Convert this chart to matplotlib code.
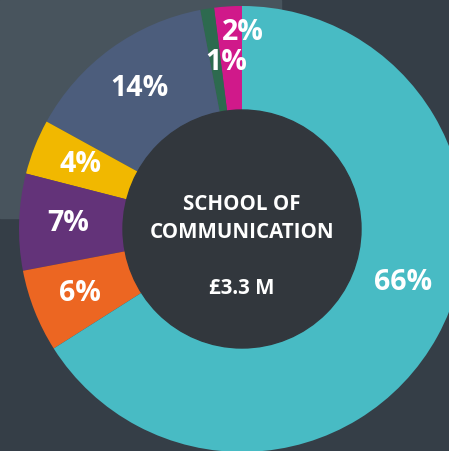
import numpy as np
import matplotlib
matplotlib.use("Agg")
from matplotlib import pyplot as plt
from matplotlib.patches import Rectangle, Circle

# data, counter-clockwise from the top
shares = [2, 1, 14, 4, 7, 6, 66]
labels = ["2%", "1%", "14%", "4%", "7%", "6%", "66%"]
colors = ["#d0198a", "#2d6a4f", "#4c5d7c", "#f1b800", "#633379", "#ec6622", "#48bbc4"]
title_lines = ["SCHOOL OF", "COMMUNICATION"]
total = "£3.3 M"

W, H = 449, 451
fig = plt.figure(figsize=(W / 100, H / 100), dpi=100)
fig.patch.set_facecolor("#353e47")
ax = fig.add_axes([0, 0, 1, 1])

# lighter panel behind the top-left
ax.add_patch(Rectangle((0, H - 218), 281, 218, color="#48545d", zorder=0))

cx, cy, R = 242, H - 229, 223
wedges, _ = ax.pie(shares, colors=colors, startangle=90, counterclock=True,
                   center=(cx, cy), radius=R, frame=True,
                   wedgeprops=dict(linewidth=0))
ax.set_xlim(0, W)
ax.set_ylim(0, H)
ax.axis("off")
ax.add_patch(Circle((cx, cy), 119, color="#32373d", zorder=5))

# label placement: mid-angle of each wedge, small ones nudged by hand
mids = [(w.theta1 + w.theta2) / 2 for w in wedges]
nudge = {0: (-3.9, 197), 1: (-3.5, 167), 6: (10.6, 170)}
for i, (lab, m) in enumerate(zip(labels, mids)):
    da, r = nudge.get(i, (0, 174))
    a = np.radians(m + da)
    ax.text(cx + r * np.cos(a), cy + r * np.sin(a), lab, color="white",
            fontsize=20.5, fontweight="bold", family="Open Sans",
            ha="center", va="center", zorder=6)

center_font = dict(color="white", fontsize=14.8, family="Open Sans",
                   fontweight="bold", ha="center", va="center", zorder=6)
ax.text(cx, H - 205, title_lines[0], **center_font)
ax.text(cx, H - 232, title_lines[1], **center_font)
ax.text(cx, H - 288, total, **center_font)

fig.savefig("out.png", dpi=100, facecolor=fig.get_facecolor())
